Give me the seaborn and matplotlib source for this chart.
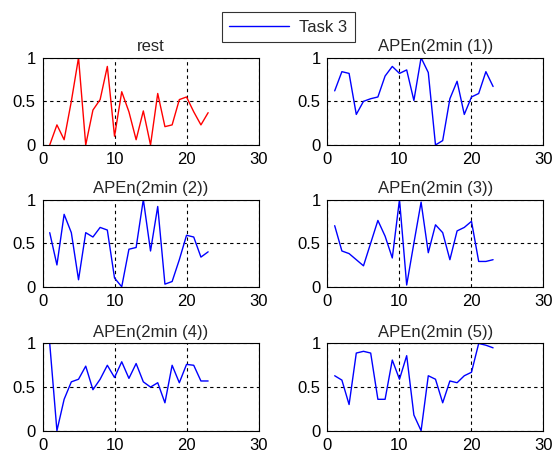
import numpy as np
import pandas as pd
import matplotlib
matplotlib.use("Agg")
import matplotlib.pyplot as plt
import seaborn as sns
from matplotlib.lines import Line2D

x = list(range(1, 24))
titles = ["rest", "APEn(2min (1))", "APEn(2min (2))", "APEn(2min (3))",
          "APEn(2min (4))", "APEn(2min (5))"]
rest = [0, 0.23, 0.06, 0.5, 1.0, 0, 0.4, 0.52, 0.9, 0.1, 0.61, 0.38, 0.06,
        0.39, 0, 0.59, 0.21, 0.23, 0.52, 0.55, 0.38, 0.23, 0.37]
apen1 = [0.62, 0.84, 0.82, 0.35, 0.5, 0.53, 0.55, 0.79, 0.9, 0.82, 0.86, 0.51,
         1.0, 0.83, 0, 0.05, 0.53, 0.73, 0.35, 0.55, 0.59, 0.84, 0.67]
apen2 = [0.62, 0.25, 0.83, 0.62, 0.08, 0.62, 0.57, 0.68, 0.65, 0.1, 0, 0.43,
         0.45, 1.0, 0.41, 0.92, 0.03, 0.06, 0.31, 0.59, 0.57, 0.34, 0.4]
apen3 = [0.7, 0.41, 0.38, 0.31, 0.24, 0.5, 0.76, 0.58, 0.33, 1.0, 0.02, 0.5,
         0.97, 0.39, 0.71, 0.62, 0.31, 0.64, 0.68, 0.75, 0.29, 0.29, 0.31]
apen4 = [1.0, 0, 0.36, 0.56, 0.59, 0.74, 0.47, 0.59, 0.75, 0.61, 0.79, 0.6,
         0.77, 0.56, 0.5, 0.55, 0.32, 0.75, 0.55, 0.76, 0.75, 0.57, 0.57]
apen5 = [0.63, 0.58, 0.3, 0.89, 0.91, 0.89, 0.36, 0.36, 0.81, 0.59, 0.86, 0.18,
         0, 0.63, 0.59, 0.32, 0.57, 0.55, 0.63, 0.67, 1.0, 0.98, 0.95]
series = [rest, apen1, apen2, apen3, apen4, apen5]
colors = ["#ff0000", "#0000ff", "#0000ff", "#0000ff", "#0000ff", "#0000ff"]
legend_label = "Task 3"
xticks = [0, 10, 20, 30]
yticks = [0, 0.5, 1]
yticklabels = ["0", "0.5", "1"]

sns.set_style("white")
plt.rcParams['font.family'] = ['Liberation Sans', 'DejaVu Sans']

fig = plt.figure(figsize=(5.53, 4.53), dpi=100)
lefts = [0.0769, 0.5922]
bottoms = [0.680, 0.367, 0.0492]
w, h = 0.3906, 0.1926

for i, (vals, title, col) in enumerate(zip(series, titles, colors)):
    r, c = divmod(i, 2)
    ax = fig.add_axes([lefts[c], bottoms[r], w, h])
    df = pd.DataFrame({"x": x, "y": vals})
    sns.lineplot(data=df, x="x", y="y", ax=ax, color=col, linewidth=1.0)
    ax.set_xlim(0, 30)
    ax.set_ylim(0, 1)
    ax.set_xticks(xticks)
    ax.set_yticks(yticks)
    ax.set_yticklabels(yticklabels)
    ax.set_xlabel("")
    ax.set_ylabel("")
    ax.set_title(title, fontsize=12, pad=5)
    ax.tick_params(labelsize=12, length=0, pad=5, colors="black")
    ax.grid(True, color="black", linestyle=(0, (3, 3)), linewidth=0.8)
    for s in ax.spines.values():
        s.set_visible(True)
        s.set_color("black")
        s.set_linewidth(0.8)

h_leg = Line2D([], [], color="#0000ff", linewidth=1.0)
leg = fig.legend([h_leg], [legend_label], loc="center", bbox_to_anchor=(0.5215, 0.94),
                 fontsize=12, frameon=True, fancybox=False, handlelength=3.6,
                 borderpad=0.45, handletextpad=0.6, edgecolor="black")
leg.get_frame().set_linewidth(0.8)

fig.savefig("out.png", dpi=100, facecolor="white")
